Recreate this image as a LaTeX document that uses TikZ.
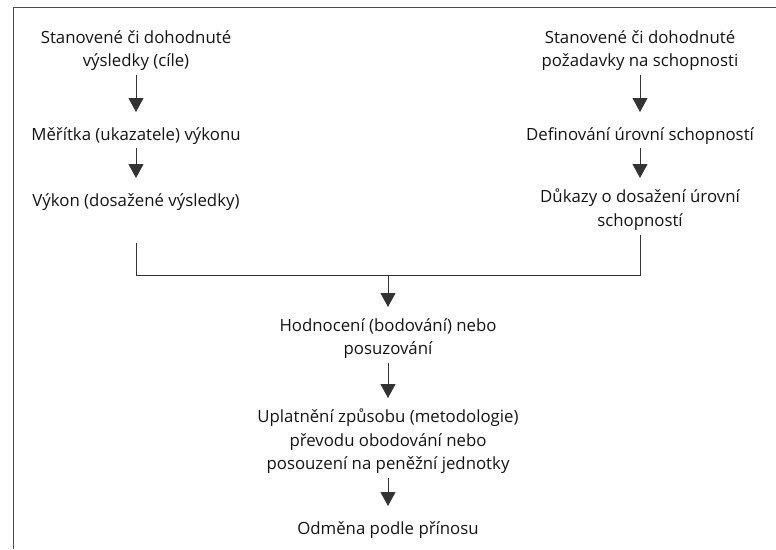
\documentclass[tikz,border=0pt]{standalone}
\usepackage{fontspec}
\setmainfont{Open Sans}
\usetikzlibrary{arrows.meta}
\newcommand\topstr{\rule{0pt}{17pt}}
\newcommand\botstr{\rule[-5pt]{0pt}{5pt}}
\begin{document}
\begin{tikzpicture}[x=1pt,y=-1pt,
  lbl/.style={inner sep=0pt, anchor=north, align=center, text=black!92,
    font=\fontsize{16.8}{23.5}\selectfont,
    execute at begin node=\topstr, execute at end node=\botstr},
  conn/.style={draw=black!80, line width=0.9pt},
  arr/.style={conn, -{Triangle[width=15pt,length=14pt]}, shorten <=3pt, shorten >=11pt},
  frame/.style={draw=black!70, line width=1pt}]
\useasboundingbox (0,0) rectangle (776,549);
% frame (left and top edges)
\draw[frame] (13,549) -- (13,7) -- (776,7);
% left column
\node[lbl] (L1) at (136,30) {Stanovené či dohodnuté\\výsledky (cíle)};
\node[lbl] (L2) at (136,123) {Měřítka (ukazatele) výkonu};
\node[lbl] (L3) at (136,189) {Výkon (dosažené výsledky)};
% right column
\node[lbl] (R1) at (640,30) {Stanovené či dohodnuté\\požadavky na schopnosti};
\node[lbl] (R2) at (640,123) {Definování úrovní schopností};
\node[lbl] (R3) at (640,189) {Důkazy o dosažení úrovní\\schopností};
% centre column
\node[lbl] (C1) at (388,318) {Hodnocení (bodování) nebo\\posuzování};
\node[lbl] (C2) at (388,409) {Uplatnění způsobu (metodologie)\\převodu obodování nebo\\posouzení na peněžní jednotky};
\node[lbl] (C3) at (388,517) {Odměna podle přínosu};
\coordinate (J) at (388,275);
% arrows
\draw[arr] (L1.south) -- (L2.north);
\draw[arr] (L2.south) -- (L3.north);
\draw[arr] (R1.south) -- (R2.north);
\draw[arr] (R2.south) -- (R3.north);
\draw[conn] ([yshift=-32pt]L3.south) -- (L3.south |- J) -- (R3.south |- J) -- ([yshift=-3pt]R3.south);
\draw[arr, shorten <=0pt] (J) -- (C1.north);
\draw[arr] (C1.south) -- (C2.north);
\draw[arr] (C2.south) -- (C3.north);
\end{tikzpicture}
\end{document}
